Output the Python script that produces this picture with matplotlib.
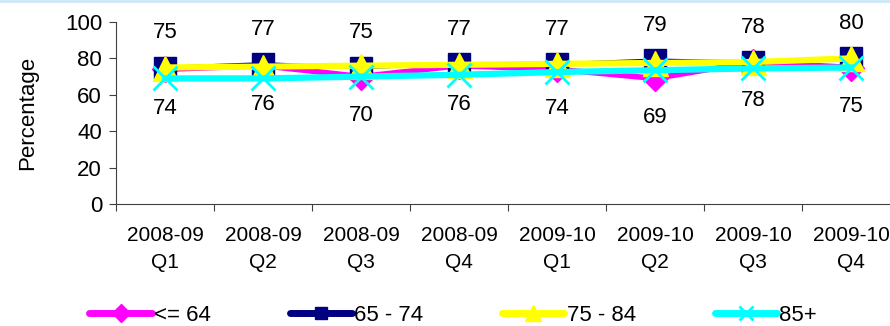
import numpy as np
import matplotlib.pyplot as plt
from matplotlib.lines import Line2D

plt.rcParams['font.family'] = ['Liberation Sans', 'DejaVu Sans']

# quarterly percentages by age band
quarters = ['2008-09\nQ1', '2008-09\nQ2', '2008-09\nQ3', '2008-09\nQ4',
            '2009-10\nQ1', '2009-10\nQ2', '2009-10\nQ3', '2009-10\nQ4']
age_upto_64 = [74, 76, 70, 76, 74, 69, 78, 75]
age_65_74 = [75, 77, 75, 77, 77, 79, 78, 80]
age_75_84 = [75, 75.5, 76, 76.5, 77, 77.5, 78, 80]
age_85_plus = [69, 69, 70, 71, 72.5, 73.5, 74.5, 75]

x = np.arange(len(quarters))

fig = plt.figure(figsize=(8.9, 3.26), dpi=100)
ax = fig.add_axes([116 / 890, 1 - 204 / 326, 784 / 890, 182 / 326])

ax.plot(x, age_upto_64, color='#FF00FF', lw=4, marker='D', ms=13,
        mec='#FF00FF', label='<= 64', solid_capstyle='round')
ax.plot(x, age_65_74, color='#000080', lw=2.5, marker='s', ms=16,
        mec='#000080', label='65 - 74')
ax.plot(x, age_75_84, color='#FFFF00', lw=4.5, marker='^', ms=18,
        mec='#FFFF00', label='75 - 84')
ax.plot(x, age_85_plus, color='#00FFFF', lw=4.5, marker='x', ms=17,
        mew=2, label='85+')

# value labels: 65-74 above the points, <= 64 below
for i in x:
    ax.annotate(f'{age_65_74[i]:.0f}', (i, age_65_74[i]), xytext=(0, 25),
                textcoords='offset points', ha='center', va='center', fontsize=16)
    ax.annotate(f'{age_upto_64[i]:.0f}', (i, age_upto_64[i]), xytext=(0, -28),
                textcoords='offset points', ha='center', va='center', fontsize=16)

ax.set_xlim(-0.5, 7.5)
ax.set_ylim(0, 100)
ax.set_yticks(range(0, 101, 20))
ax.tick_params(axis='y', labelsize=16, length=5, color='#404040', pad=5)

ax.set_xticks(x - 0.5)
ax.set_xticklabels([])
ax.set_xticks(x, minor=True)
ax.set_xticklabels(quarters, minor=True, fontsize=15, linespacing=1.55)
ax.tick_params(axis='x', which='major', length=5, color='#404040')
ax.tick_params(axis='x', which='minor', length=0, pad=16)

for s in ['top', 'right']:
    ax.spines[s].set_visible(False)
for s in ['left', 'bottom']:
    ax.spines[s].set_color('#404040')

ax.set_ylabel('Percentage', fontsize=16, labelpad=19)

handles = [
    Line2D([], [], color='#FF00FF', lw=5, marker='D', ms=9, solid_capstyle='round'),
    Line2D([], [], color='#000080', lw=5, marker='s', ms=9, solid_capstyle='round'),
    Line2D([], [], color='#FFFF00', lw=5, marker='^', ms=11, solid_capstyle='round'),
    Line2D([], [], color='#00FFFF', lw=5, marker='x', ms=10, mew=2, solid_capstyle='round'),
]
fig.legend(handles, ['<= 64', '65 - 74', '75 - 84', '85+'], loc='center left',
           bbox_to_anchor=(0.088, 0.032), ncol=4, frameon=False, fontsize=16,
           handlelength=2.8, handletextpad=0.1, columnspacing=3.55, borderpad=0)

fig.add_artist(Line2D([0, 1], [0.998, 0.998], color='#CCE8F8', lw=2,
                      transform=fig.transFigure))

fig.savefig('out.png', dpi=100)
